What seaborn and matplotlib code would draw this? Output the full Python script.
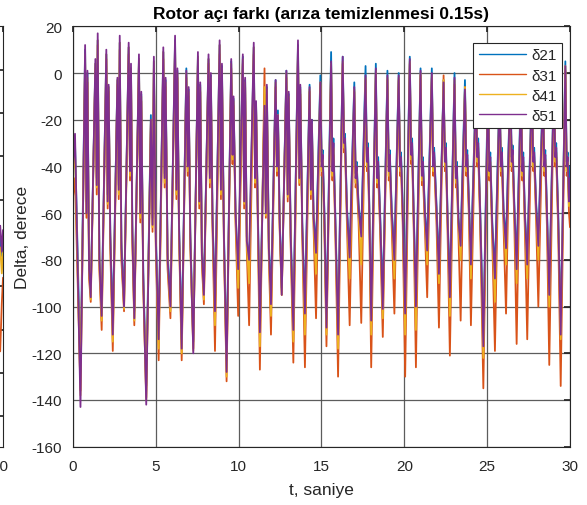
import numpy as np
import pandas as pd
import matplotlib
matplotlib.use("Agg")
import matplotlib.pyplot as plt
import matplotlib.transforms as mtransforms
import seaborn as sns

# Sample times (s): start, then per swing cycle trough / peak / dip / second peak / shoulder
t_s = [
    0.00, 0.12,
    0.45, 0.73, 0.81, 0.87, 0.97,
    1.07, 1.35, 1.43, 1.49, 1.59,
    1.73, 2.01, 2.09, 2.15, 2.25,
    2.40, 2.68, 2.76, 2.82, 2.92,
    3.08, 3.36, 3.44, 3.50, 3.58,
    3.70, 3.98, 4.06, 4.12, 4.24,
    4.42, 4.70, 4.80, 4.88, 5.00,
    5.17, 5.45, 5.53, 5.59, 5.71,
    5.88, 6.16, 6.24, 6.30, 6.40,
    6.56, 6.84, 6.92, 6.98, 7.08,
    7.26, 7.54, 7.62, 7.68, 7.78,
    7.90, 8.18, 8.26, 8.32, 8.42,
    8.57, 8.85, 8.93, 8.99, 9.11,
    9.27, 9.55, 9.63, 9.69, 9.81,
    9.97, 10.25, 10.33, 10.39, 10.49,
    10.63, 10.91, 10.99, 11.05, 11.15,
    11.28, 11.56, 11.64, 11.70, 11.82,
    11.95, 12.23, 12.31, 12.37, 12.47,
    12.60, 12.88, 12.96, 13.02, 13.14,
    13.30, 13.58, 13.66, 13.72, 13.84,
    14.00, 14.28, 14.36, 14.42, 14.52,
    14.67, 14.93, 15.01, 15.07, 15.17,
    15.30, 15.58, 15.66, 15.72, 15.84,
    16.00, 16.28, 16.36, 16.42, 16.54,
    16.70, 16.98, 17.06, 17.12, 17.24,
    17.40, 17.66, 17.74, 17.80, 17.88,
    18.00, 18.28, 18.36, 18.42, 18.54,
    18.70, 18.98, 19.06, 19.12, 19.24,
    19.40, 19.66, 19.74, 19.80, 19.90,
    20.05, 20.33, 20.41, 20.47, 20.57,
    20.70, 20.98, 21.06, 21.12, 21.24,
    21.38, 21.66, 21.74, 21.80, 21.94,
    22.09, 22.37, 22.45, 22.51, 22.61,
    22.75, 23.03, 23.11, 23.17, 23.27,
    23.40, 23.66, 23.74, 23.80, 23.90,
    24.02, 24.32, 24.40, 24.46, 24.58,
    24.77, 25.05, 25.13, 25.19, 25.31,
    25.47, 25.75, 25.83, 25.89, 25.99,
    26.14, 26.40, 26.48, 26.54, 26.64,
    26.78, 27.04, 27.12, 27.18, 27.28,
    27.42, 27.70, 27.78, 27.84, 27.96,
    28.09, 28.37, 28.45, 28.51, 28.61,
    28.75, 29.03, 29.11, 29.17, 29.29,
    29.44, 29.72, 29.80, 29.86, 29.94,
    30.00,
]

# Rotor angle differences (degrees)
d21 = [
    -36, -30,
    -128, 10, -55, 0, -80,
    -94, 4, -45, 14, -78,
    -100, 8, -52, -6, -68,
    -108, -3, -48, 13, -72,
    -97, 11, -40, 2, -65,
    -102, 6, -56, -9, -85,
    -134, -18, -62, 5, -70,
    -110, 9, -43, -3, -77,
    -97, 14, -47, 1, -64,
    -114, 2, -38, -7, -68,
    -115, 7, -52, -5, -75,
    -92, 6, -43, -1, -60,
    -99, 12, -47, 3, -68,
    -123, 5, -33, -11, -58,
    -88, 7, -52, -3, -70,
    -84, 11, -43, -13, -56,
    -106, -12, -57, -6, -72,
    -96, -3, -38, -16, -60,
    -92, 1, -50, -9, -68,
    -106, 12, -43, -6, -64,
    -100, -5, -48, -20, -60,
    -75, -1, -38, -33, -58,
    -105, 9, -40, -28, -62,
    -108, 7, -28, -26, -58,
    -76, -4, -43, -38, -56,
    -68, 3, -36, -30, -54,
    -103, 4, -43, -36, -60,
    -97, 1, -40, -33, -58,
    -77, 0, -38, -34, -56,
    -100, 7, -33, -28, -60,
    -96, 2, -42, -36, -58,
    -73, 2, -38, -32, -56,
    -82, -3, -36, -30, -60,
    -92, 0, -43, -38, -62,
    -71, -3, -38, -33, -54,
    -79, -4, -34, -28, -58,
    -112, -2, -40, -34, -64,
    -85, -5, -38, -32, -58,
    -72, -2, -36, -31, -56,
    -81, -4, -40, -34, -60,
    -79, -3, -36, -32, -56,
    -71, -5, -38, -33, -58,
    -91, -1, -34, -30, -60,
    -108, 5, -38, -34, -52,
    -40,
]

d31 = [
    -53, -45,
    -136, 4, -62, -4, -88,
    -98, 2, -52, 12, -84,
    -110, 6, -58, -8, -75,
    -119, -5, -54, 10, -80,
    -102, 8, -46, 0, -72,
    -108, 4, -64, -12, -92,
    -139, -22, -68, 2, -76,
    -123, 6, -49, -6, -84,
    -105, 10, -54, -2, -70,
    -123, -2, -44, -10, -74,
    -118, 4, -58, -8, -82,
    -99, 4, -49, -4, -66,
    -119, 8, -54, 0, -74,
    -132, 2, -39, -14, -64,
    -104, 4, -58, -6, -76,
    -108, 8, -49, -15, -62,
    -127, 2, -62, -9, -79,
    -112, -6, -44, -20, -66,
    -95, -2, -55, -11, -74,
    -124, 8, -48, -9, -70,
    -126, -8, -54, -24, -66,
    -105, -5, -44, -40, -66,
    -117, 3, -46, -35, -70,
    -130, 4, -34, -32, -66,
    -108, -8, -49, -45, -64,
    -107, -3, -42, -36, -62,
    -126, 0, -49, -43, -68,
    -113, -3, -46, -40, -66,
    -103, -3, -44, -40, -64,
    -130, 4, -39, -35, -68,
    -126, -1, -48, -43, -66,
    -96, -2, -44, -38, -64,
    -109, -1, -42, -36, -68,
    -121, -5, -49, -45, -70,
    -106, -6, -44, -40, -62,
    -108, -8, -40, -34, -66,
    -135, -8, -46, -40, -72,
    -119, -10, -44, -38, -66,
    -103, -6, -42, -37, -64,
    -116, -9, -46, -40, -68,
    -114, -7, -42, -38, -64,
    -100, -10, -44, -39, -66,
    -125, -4, -40, -36, -68,
    -134, 1, -44, -40, -60,
    -66,
]

d41 = [
    -42, -34,
    -138, 8, -60, -2, -85,
    -97, 4, -49, 14, -82,
    -106, 8, -56, -6, -72,
    -115, -3, -52, 13, -77,
    -101, 11, -44, 2, -70,
    -106, 6, -62, -10, -90,
    -140, -20, -66, 5, -74,
    -118, 9, -47, -4, -82,
    -102, 13, -52, 0, -68,
    -120, 0, -42, -8, -72,
    -119, 7, -56, -6, -80,
    -97, 6, -47, -2, -64,
    -108, 12, -52, 2, -72,
    -130, 4, -37, -12, -62,
    -92, 6, -56, -4, -74,
    -90, 11, -47, -14, -60,
    -117, -6, -61, -7, -77,
    -104, -4, -42, -18, -64,
    -95, 0, -53, -10, -72,
    -115, 11, -47, -7, -68,
    -112, -7, -52, -22, -64,
    -86, -4, -42, -37, -62,
    -112, 4, -44, -32, -67,
    -118, 5, -32, -30, -62,
    -88, -7, -47, -42, -60,
    -82, -2, -40, -34, -58,
    -112, 1, -47, -40, -64,
    -105, -2, -44, -37, -62,
    -88, -2, -42, -38, -60,
    -112, 5, -37, -32, -64,
    -110, 0, -46, -40, -62,
    -82, -1, -42, -36, -60,
    -90, -3, -40, -34, -64,
    -104, -3, -47, -42, -66,
    -80, -6, -42, -37, -58,
    -88, -6, -38, -32, -62,
    -122, -5, -44, -38, -68,
    -98, -8, -42, -36, -62,
    -82, -4, -40, -35, -60,
    -90, -7, -44, -38, -64,
    -88, -5, -40, -36, -60,
    -80, -8, -42, -37, -62,
    -100, -3, -38, -34, -64,
    -114, 3, -42, -38, -57,
    -55,
]

d51 = [
    -40, -26,
    -143, 12, -60, 1, -84,
    -96, 6, -48, 17, -80,
    -104, 10, -55, -5, -70,
    -112, -2, -50, 16, -75,
    -100, 13, -42, 4, -68,
    -105, 8, -60, -8, -88,
    -142, -20, -65, 7, -72,
    -114, 11, -45, -2, -80,
    -100, 16, -50, 2, -66,
    -118, 1, -40, -6, -70,
    -120, 9, -55, -4, -78,
    -95, 8, -45, 0, -62,
    -102, 14, -50, 4, -70,
    -128, 6, -35, -10, -60,
    -84, 8, -55, -2, -72,
    -80, 13, -45, -12, -58,
    -111, -14, -60, -5, -75,
    -99, -3, -40, -18, -62,
    -95, 1, -52, -8, -70,
    -110, 14, -45, -5, -66,
    -103, -6, -50, -20, -62,
    -77, -4, -40, -35, -60,
    -109, 5, -42, -30, -65,
    -112, 7, -30, -28, -60,
    -79, -6, -45, -40, -58,
    -70, -1, -38, -32, -56,
    -106, 2, -45, -38, -62,
    -101, -1, -42, -35, -60,
    -80, -1, -40, -36, -58,
    -103, 6, -35, -30, -62,
    -100, 1, -44, -38, -60,
    -76, 0, -40, -34, -58,
    -86, -4, -38, -32, -62,
    -96, -2, -45, -40, -64,
    -74, -7, -40, -35, -56,
    -82, -8, -36, -30, -60,
    -117, -6, -42, -36, -66,
    -88, -9, -40, -34, -60,
    -75, -5, -38, -33, -58,
    -84, -8, -42, -36, -62,
    -82, -6, -38, -34, -58,
    -74, -9, -40, -35, -60,
    -95, -4, -36, -32, -62,
    -112, 3, -40, -36, -55,
    -45,
]

series_names = ["δ21", "δ31", "δ41", "δ51"]
series_colors = ["#0072BD", "#D95319", "#EDB120", "#7E2F8E"]
y_ticks = list(range(-160, 21, 20))
x_ticks = [0, 5, 10, 15, 20, 25, 30]

# Tail of the neighbouring panel (its own units)
side_t = [28.6, 29.3, 29.7, 30.0]
side_vals = {
    "δ21": [-5.4, -4.9, -5.3, -4.8],
    "δ31": [-6.2, -7.5, -6.4, -5.8],
    "δ41": [-5.6, -5.1, -5.7, -5.2],
    "δ51": [-5.0, -4.6, -5.2, -4.7],
}

df = pd.concat(
    [pd.DataFrame({"t": t_s, "v": vals, "seri": name})
     for name, vals in zip(series_names, [d21, d31, d41, d51])],
    ignore_index=True,
)
side_df = pd.concat(
    [pd.DataFrame({"t": side_t, "v": side_vals[n], "seri": n}) for n in series_names],
    ignore_index=True,
)

sns.set_theme(style="white")
plt.rcParams["font.family"] = ["Liberation Sans", "DejaVu Sans"]
plt.rcParams["axes.unicode_minus"] = False

ink = "#262626"
line_w = 1.3
fig = plt.figure(figsize=(5.87, 5.06), dpi=100)
fig.patch.set_facecolor("white")

# neighbouring panel, mostly outside the canvas
side = fig.add_axes([-0.2, 0.1152, 0.2051, 0.8308])
sns.lineplot(data=side_df, x="t", y="v", hue="seri", palette=series_colors,
             estimator=None, sort=False, lw=line_w, legend=False, ax=side)
side.set_xlim(0, 30)
side.set_ylim(-9.7, 0)
side.set_xticks([30])
side.set_xticklabels(["30"])
side.set_yticks(list(range(-9, 0)))
side.set_yticklabels([])
side.set_xlabel("")
side.set_ylabel("")
side.tick_params(axis="both", direction="in", length=4, color=ink,
                 labelsize=11, labelcolor=ink, right=True, top=True)
side.tick_params(axis="x", pad=9)
shift = mtransforms.ScaledTranslation(-0.035, 0, fig.dpi_scale_trans)
for lab in side.get_xticklabels():
    lab.set_transform(lab.get_transform() + shift)
for sp in side.spines.values():
    sp.set_color(ink)
    sp.set_linewidth(0.8)

ax = fig.add_axes([0.1244, 0.1152, 0.8466, 0.8308])
sns.lineplot(data=df, x="t", y="v", hue="seri", palette=series_colors,
             estimator=None, sort=False, lw=line_w, ax=ax)

ax.set_xlim(0, 30)
ax.set_ylim(-160, 20)
ax.set_xticks(x_ticks)
ax.set_yticks(y_ticks)
ax.set_xticklabels([str(v) for v in x_ticks])
ax.set_yticklabels([str(v) for v in y_ticks])
ax.grid(True, color="#4a4a4a", linewidth=0.9, alpha=0.9)
ax.set_axisbelow(True)
ax.tick_params(axis="both", direction="in", length=4, color=ink,
               labelsize=11, labelcolor=ink, top=True, right=True)
ax.tick_params(axis="x", pad=9)
ax.tick_params(axis="y", pad=8)
for sp in ax.spines.values():
    sp.set_color(ink)
    sp.set_linewidth(0.8)

ax.set_title("Rotor açı farkı (arıza temizlenmesi 0.15s)", fontsize=12.5,
             fontweight="bold", color="black", pad=6)
ax.set_xlabel("t, saniye", fontsize=12.5, color=ink, labelpad=6)
ax.set_ylabel("Delta, derece", fontsize=12.5, color=ink, labelpad=1)

handles, labels = ax.get_legend_handles_labels()
leg = ax.legend(handles, labels, loc="upper right", bbox_to_anchor=(0.984, 0.960),
                borderaxespad=0, fontsize=11, frameon=True, fancybox=False,
                framealpha=1, edgecolor=ink, handlelength=3.1, handletextpad=0.35,
                labelspacing=0.4, borderpad=0.35)
leg.get_frame().set_linewidth(0.8)
for line in leg.get_lines():
    line.set_linewidth(1.0)

fig.savefig("out.png", dpi=100, facecolor="white")
